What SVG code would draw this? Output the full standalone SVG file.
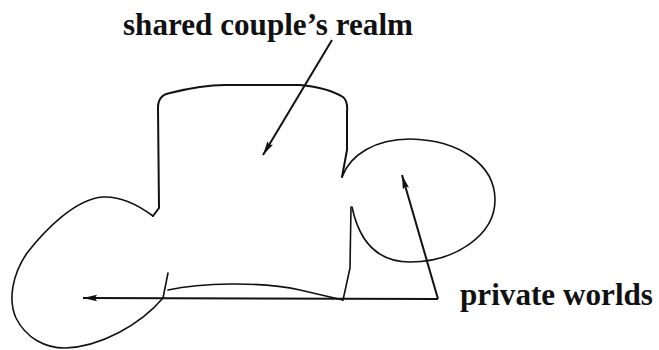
<svg xmlns="http://www.w3.org/2000/svg" width="659" height="350" viewBox="0 0 659 350">
<defs>
<style>
.shape{fill:none;stroke:#111;stroke-width:2;stroke-linecap:round;stroke-linejoin:round}
.thin{fill:none;stroke:#111;stroke-width:1.6;stroke-linecap:round;stroke-linejoin:round}
.conn{fill:none;stroke:#111;stroke-width:2}
.lbl{font-family:"Liberation Serif","Times New Roman",serif;font-weight:bold;font-size:32px;fill:#111}
</style>
<marker id="ah" markerUnits="userSpaceOnUse" markerWidth="15" markerHeight="8" refX="14" refY="4" orient="auto">
<path d="M0,0.8 L14,4 L0,7.2 L2,4 z" fill="#111"/>
</marker>
</defs>
<rect width="659" height="350" fill="#fff"/>
<g id="shared-realm">
<path class="shape" d="M153,216 L159,208 L158,108 Q158,95 170,93 C190,88 205,85 225,85 L300,85 C320,87 335,92 343,97 Q348,101 347,112 L347,150 L342,177"/>
<path class="thin" d="M168,290 C200,283 260,281 300,290 L343,300"/>
<path class="thin" d="M351,207 L350,268 L343,300"/>
</g>
<g id="private-world-left">
<path class="thin" d="M153,216 C145,210 125,196 103,197 C75,199 45,230 27,253 C12,275 8,300 16,318 C26,338 45,348 65,348 C100,347 140,325 163,298 L168,273"/>
</g>
<g id="private-world-right">
<path class="thin" d="M342,177 C350,155 375,139 410,139 C460,140 495,165 495,200 C495,235 455,262 410,262 C380,262 360,245 352,207"/>
</g>
<g id="connectors">
<line class="conn" x1="332" y1="40" x2="263" y2="155" marker-end="url(#ah)"/>
<line class="conn" x1="438" y1="299" x2="83" y2="298" marker-end="url(#ah)"/>
<line class="conn" x1="438" y1="299" x2="402" y2="175" marker-end="url(#ah)"/>
</g>
<g id="label-shared">
<text class="lbl" x="123" y="35" textLength="290" lengthAdjust="spacingAndGlyphs">shared couple’s realm</text>
</g>
<g id="label-private">
<text class="lbl" x="460" y="305" textLength="193" lengthAdjust="spacingAndGlyphs">private worlds</text>
</g>
</svg>
